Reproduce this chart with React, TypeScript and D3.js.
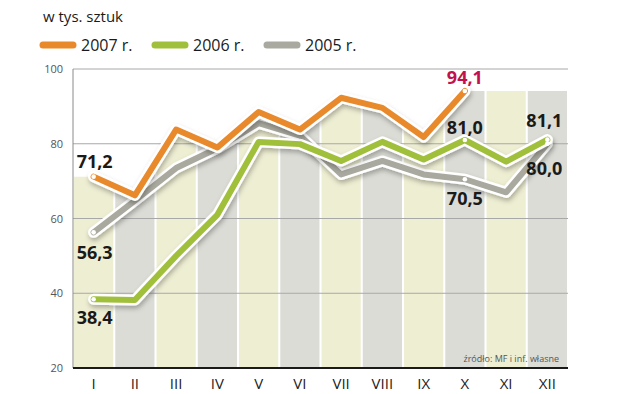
import React, { useRef, useEffect } from "react";
import * as d3 from "d3";

const months = ["I", "II", "III", "IV", "V", "VI", "VII", "VIII", "IX", "X", "XI", "XII"];
const y2007 = [71.2, 66.2, 83.8, 79.0, 88.5, 83.8, 92.3, 89.6, 81.8, 94.1];
const y2006 = [38.4, 38.2, 50.0, 61.0, 80.5, 79.9, 75.4, 80.5, 75.8, 81.0, 75.2, 81.1];
const y2005 = [56.3, 64.8, 73.5, 78.8, 85.5, 82.2, 71.8, 75.4, 71.8, 70.5, 67.0, 80.0];
const yTicks = [20, 40, 60, 80, 100];

const series = [
  { name: "2005 r.", values: y2005, color: "#a9a99f" },
  { name: "2006 r.", values: y2006, color: "#a0bf3a" },
  { name: "2007 r.", values: y2007, color: "#e8892b" },
];
const legendOrder = ["2007 r.", "2006 r.", "2005 r."];

const App = () => {
  const svgRef = useRef<SVGSVGElement>(null);

  useEffect(() => {
    const svg = d3.select(svgRef.current);
    svg.selectAll("*").remove();

    const left = 73, right = 568, top = 69, bottom = 368;
    const font = "'Open Sans', 'DejaVu Sans', sans-serif";

    const x = d3.scaleBand().domain(months).range([left, right]).paddingInner(0.05).paddingOuter(0.025);
    const xc = (i: number) => (x(months[i]) as number) + x.bandwidth() / 2;
    const y = d3.scaleLinear().domain([20, 100]).range([bottom, top]);

    const defs = svg.append("defs");
    const sh = defs.append("filter").attr("id", "shadow").attr("x", "-10%").attr("y", "-10%").attr("width", "120%").attr("height", "130%");
    sh.append("feDropShadow").attr("dx", 1).attr("dy", 3).attr("stdDeviation", 2.5)
      .attr("flood-color", "#000").attr("flood-opacity", 0.28);

    // area under the 2007 line clips the columns, flat after the last value
    const last = y2007.length - 1;
    const pts: [number, number][] = [[left, y(y2007[0])]];
    y2007.forEach((v, i) => pts.push([xc(i), y(v)]));
    pts.push([right, y(y2007[last])]);
    pts.push([right, bottom], [left, bottom]);
    defs.append("clipPath").attr("id", "colclip").append("polygon")
      .attr("points", pts.map(p => p.join(",")).join(" "));

    svg.append("g").attr("clip-path", "url(#colclip)")
      .selectAll("rect").data(months).enter().append("rect")
      .attr("x", d => x(d) as number)
      .attr("width", x.bandwidth())
      .attr("y", top)
      .attr("height", bottom - top)
      .attr("fill", (d, i) => (i % 2 === 0 ? "#eeeed3" : "#dcdcd6"));

    // gridlines
    svg.append("g").selectAll("line").data(yTicks.filter(t => t > 20)).enter().append("line")
      .attr("x1", left).attr("x2", right)
      .attr("y1", d => y(d)).attr("y2", d => y(d))
      .attr("stroke", "#a8a8a8").attr("stroke-width", 1);

    svg.append("line").attr("x1", left).attr("x2", left).attr("y1", top).attr("y2", bottom)
      .attr("stroke", "#8a8a8a").attr("stroke-width", 1);

    svg.append("g").selectAll("text").data(yTicks).enter().append("text")
      .attr("x", left - 10).attr("y", d => y(d) + 4)
      .attr("text-anchor", "end")
      .attr("font-family", font).attr("font-size", 11).attr("fill", "#555")
      .text(d => d);

    // lines
    const line = d3.line<number>().x((d, i) => xc(i)).y(d => y(d));
    series.forEach(s => {
      const g = svg.append("g");
      g.append("path").attr("d", line(s.values))
        .attr("fill", "none").attr("stroke", "#fff").attr("stroke-width", 11)
        .attr("stroke-linejoin", "round").attr("stroke-linecap", "round")
        .attr("filter", "url(#shadow)");
      g.append("path").attr("d", line(s.values))
        .attr("fill", "none").attr("stroke", s.color).attr("stroke-width", 6)
        .attr("stroke-linejoin", "round").attr("stroke-linecap", "round");
    });

    // end dots
    const dots: [number, number][] = [
      [0, y2007[0]], [last, y2007[last]],
      [0, y2006[0]], [9, y2006[9]], [11, y2006[11]],
      [0, y2005[0]], [9, y2005[9]], [11, y2005[11]],
    ];
    svg.append("g").selectAll("circle").data(dots).enter().append("circle")
      .attr("cx", d => xc(d[0])).attr("cy", d => y(d[1])).attr("r", 2.3)
      .attr("fill", "#fff");

    // value labels
    const labels = [
      { i: 0, v: y2007[0], dx: -17, dy: -9, color: "#1a1a1a" },
      { i: 0, v: y2005[0], dx: -17, dy: 27, color: "#1a1a1a" },
      { i: 0, v: y2006[0], dx: -17, dy: 25, color: "#1a1a1a" },
      { i: last, v: y2007[last], dx: 0, dy: -7, color: "#c2124e" },
      { i: 9, v: y2006[9], dx: 0, dy: -6, color: "#1a1a1a" },
      { i: 9, v: y2005[9], dx: 0, dy: 26, color: "#1a1a1a" },
      { i: 11, v: y2006[11], dx: -3, dy: -13, color: "#1a1a1a" },
      { i: 11, v: y2005[11], dx: -3, dy: 31, color: "#1a1a1a" },
    ];
    svg.append("g").selectAll("text").data(labels).enter().append("text")
      .attr("x", d => xc(d.i) + d.dx).attr("y", d => y(d.v) + d.dy)
      .attr("text-anchor", d => (d.i === 0 ? "start" : "middle"))
      .attr("font-family", font).attr("font-weight", "bold").attr("font-size", 18)
      .attr("fill", d => d.color)
      .text(d => d.v.toFixed(1).replace(".", ","));

    // bottom axis
    svg.append("line").attr("x1", left).attr("x2", right).attr("y1", bottom).attr("y2", bottom)
      .attr("stroke", "#1a1a1a").attr("stroke-width", 2);
    svg.append("g").selectAll("text").data(months).enter().append("text")
      .attr("x", (d, i) => xc(i)).attr("y", 389)
      .attr("text-anchor", "middle")
      .attr("font-family", font).attr("font-size", 15).attr("fill", "#222")
      .text(d => d);

    svg.append("text").attr("x", right - 9).attr("y", 362).attr("text-anchor", "end")
      .attr("font-family", font).attr("font-size", 9).attr("fill", "#555")
      .text("źródło: MF i inf. własne");

    // title and legend
    svg.append("text").attr("x", 43).attr("y", 22)
      .attr("font-family", font).attr("font-size", 15).attr("fill", "#1a1a1a")
      .text("w tys. sztuk");

    const leg = svg.append("g").attr("transform", "translate(43,45)");
    legendOrder.forEach((name, k) => {
      const s = series.find(t => t.name === name)!;
      const gx = k * 112;
      leg.append("line").attr("x1", gx).attr("x2", gx + 30).attr("y1", 0).attr("y2", 0)
        .attr("stroke", s.color).attr("stroke-width", 7).attr("stroke-linecap", "round");
      leg.append("text").attr("x", gx + 38).attr("y", 6)
        .attr("font-family", font).attr("font-size", 16).attr("fill", "#1a1a1a")
        .text(name);
    });
  }, []);

  return <svg ref={svgRef} width={640} height={394} style={{ position: "absolute", left: 0, top: 0 }}></svg>;
};

export default App;
